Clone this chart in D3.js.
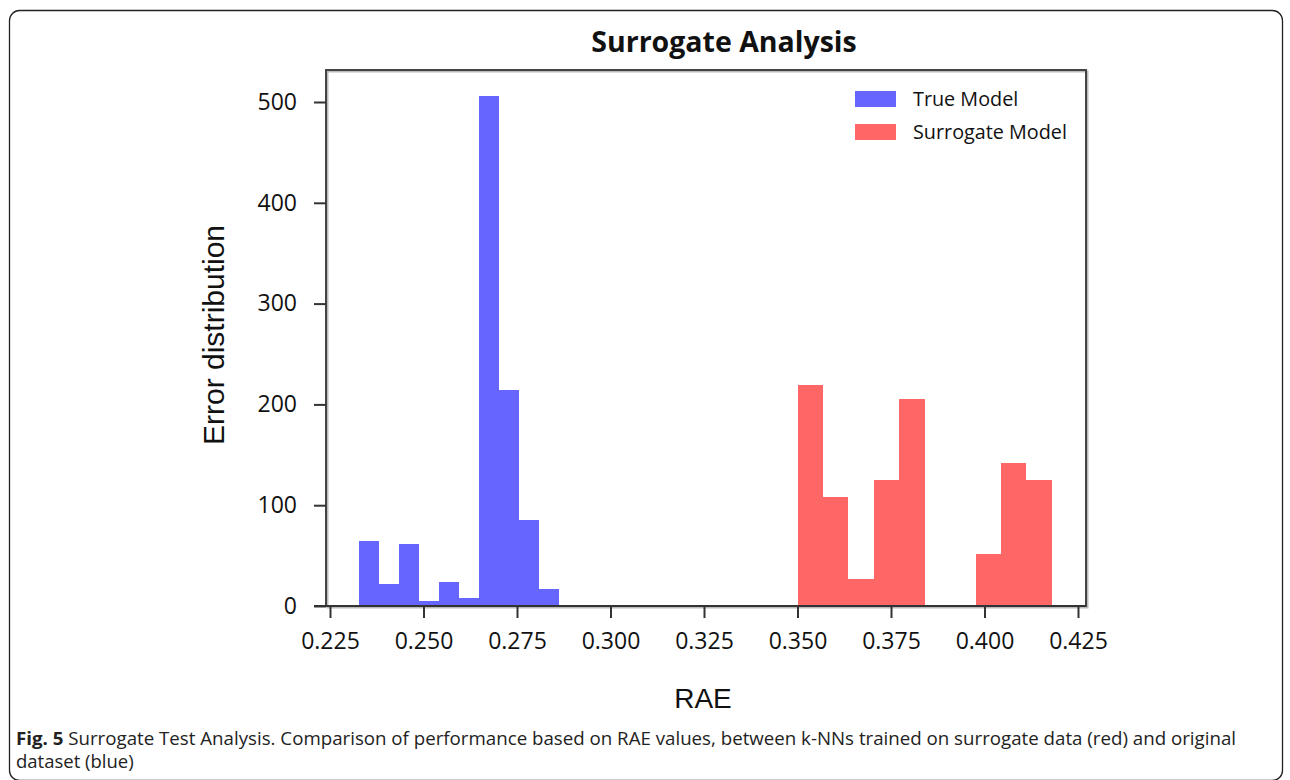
<!DOCTYPE html>
<html>
<head>
<meta charset="utf-8">
<script src="https://cdn.jsdelivr.net/npm/d3@7"></script>
<style>
  html, body { margin: 0; padding: 0; background: #fff; }
  svg { display: block; }
</style>
</head>
<body>
<svg id="chart" width="1290" height="780"></svg>
<script>
// ---- data ----
const xTicks = [0.225, 0.250, 0.275, 0.300, 0.325, 0.350, 0.375, 0.400, 0.425];
const yTicks = [0, 100, 200, 300, 400, 500];
const seriesNames = ["True Model", "Surrogate Model"];
const seriesColors = ["#6666ff", "#ff6666"];
// True model histogram: bin left edges, final right edge, counts
const trueBinStarts = [0.2327, 0.2381, 0.2434, 0.2488, 0.2541, 0.2595, 0.2649, 0.2702, 0.2756, 0.2809];
const trueBinEnd = 0.2863;
const trueCounts = [64, 22, 62, 5, 24, 8, 506, 214, 85, 17];
// Surrogate model histogram
const surBinStarts = [0.3500, 0.3568, 0.3636, 0.3704, 0.3772, 0.3840, 0.3908, 0.3976, 0.4044, 0.4112];
const surBinEnd = 0.4180;
const surCounts = [219, 108, 27, 125, 205, 0, 0, 52, 142, 125];

function toBins(starts, end, counts) {
  return starts.map((s, i) => ({ x0: s, x1: i < starts.length - 1 ? starts[i + 1] : end, n: counts[i] }));
}
const trueBins = toBins(trueBinStarts, trueBinEnd, trueCounts);
const surBins = toBins(surBinStarts, surBinEnd, surCounts);

const svg = d3.select("#chart");

// outer rounded border
svg.append("rect").attr("x", 9.5).attr("y", 10.5).attr("width", 1273).attr("height", 770)
  .attr("rx", 10).attr("fill", "none").attr("stroke", "#222").attr("stroke-width", 1.3);

// frame
const fx0 = 326, fx1 = 1086, fy0 = 70, fy1 = 606;
const x = d3.scaleLinear().domain([0.225, 0.425]).range([330, 1078]);
const y = d3.scaleLinear().domain([0, 500]).range([606, 102]);

// frame shadow
svg.append("rect").attr("x", fx0 + 1.5).attr("y", fy0 + 1.5).attr("width", fx1 - fx0).attr("height", fy1 - fy0)
  .attr("fill", "none").attr("stroke", "#bbb").attr("stroke-width", 2);

const bars = svg.append("g");
bars.selectAll("rect.t").data(trueBins).join("rect").attr("class", "t")
  .attr("x", d => x(d.x0)).attr("width", d => x(d.x1) - x(d.x0))
  .attr("y", d => y(d.n)).attr("height", d => y(0) - y(d.n))
  .attr("fill", seriesColors[0]).attr("shape-rendering", "crispEdges");
bars.selectAll("rect.s").data(surBins).join("rect").attr("class", "s")
  .attr("x", d => x(d.x0)).attr("width", d => x(d.x1) - x(d.x0))
  .attr("y", d => y(d.n)).attr("height", d => y(0) - y(d.n))
  .attr("fill", seriesColors[1]).attr("shape-rendering", "crispEdges");

svg.append("rect").attr("x", fx0).attr("y", fy0).attr("width", fx1 - fx0).attr("height", fy1 - fy0)
  .attr("fill", "none").attr("stroke", "#444").attr("stroke-width", 2);

// axes
const xAxis = d3.axisBottom(x).tickValues(xTicks).tickFormat(d3.format(".3f")).tickSize(12).tickSizeOuter(0);
const gx = svg.append("g").attr("transform", `translate(0,${fy1})`).call(xAxis);
gx.select(".domain").attr("d", `M314,0H${fx1}`).attr("stroke", "#333").attr("stroke-width", 2);
gx.selectAll(".tick line").attr("stroke", "#333").attr("stroke-width", 2);
gx.selectAll(".tick text").attr("y", 0).attr("dy", 0).attr("transform", "translate(0,43)")
  .attr("font-family", "Open Sans").attr("font-size", 23).attr("fill", "#111");

const yAxis = d3.axisLeft(y).tickValues(yTicks).tickSize(12).tickSizeOuter(0);
const gy = svg.append("g").attr("transform", `translate(${fx0},0)`).call(yAxis);
gy.select(".domain").remove();
gy.selectAll(".tick line").attr("stroke", "#333").attr("stroke-width", 2);
gy.selectAll(".tick text").attr("x", -29).attr("dy", "0.32em")
  .attr("font-family", "Open Sans").attr("font-size", 23).attr("fill", "#111");

// title
svg.append("text").attr("x", 724).attr("y", 52).attr("text-anchor", "middle")
  .attr("font-family", "Open Sans").attr("font-weight", "bold").attr("font-size", 28.5).attr("fill", "#111")
  .text("Surrogate Analysis");

// axis titles
svg.append("text").attr("transform", "translate(224,335) rotate(-90)").attr("text-anchor", "middle")
  .attr("font-family", "Liberation Sans").attr("font-size", 30).attr("fill", "#111")
  .text("Error distribution");
svg.append("text").attr("x", 703).attr("y", 708).attr("text-anchor", "middle")
  .attr("font-family", "Liberation Sans").attr("font-size", 28).attr("fill", "#111")
  .text("RAE");

// legend
const leg = svg.append("g");
seriesNames.forEach((name, i) => {
  leg.append("rect").attr("x", 855).attr("y", 91 + i * 33).attr("width", 41).attr("height", 16)
    .attr("fill", seriesColors[i]);
  leg.append("text").attr("x", 913).attr("y", 106 + i * 33)
    .attr("font-family", "Open Sans").attr("font-size", 19.8).attr("fill", "#111").text(name);
});

// caption
const cap1 = svg.append("text").attr("x", 16).attr("y", 745)
  .attr("font-family", "Open Sans").attr("font-size", 18.5).attr("fill", "#222")
  .attr("textLength", 1220).attr("lengthAdjust", "spacingAndGlyphs");
cap1.append("tspan").attr("font-weight", "bold").text("Fig. 5");
cap1.append("tspan").text(" Surrogate Test Analysis. Comparison of performance based on RAE values, between k-NNs trained on surrogate data (red) and original");
svg.append("text").attr("x", 16).attr("y", 768)
  .attr("font-family", "Open Sans").attr("font-size", 18.5).attr("fill", "#222")
  .text("dataset (blue)");
</script>
</body>
</html>
